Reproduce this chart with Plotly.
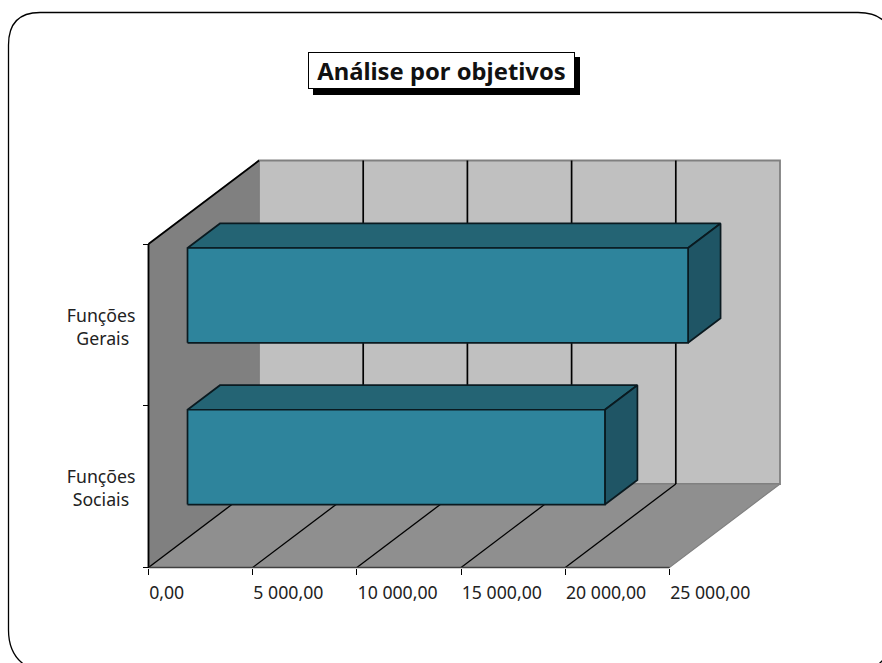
import plotly.graph_objects as go

categories = ["Funções<br>Sociais\u00a0\u200a", "Funções<br>Gerais\u00a0\u200a"]
values = [20030, 24020]
x_ticks = [0, 5000, 10000, 15000, 20000, 25000]
x_tick_labels = ["0,00", "5 000,00", "10 000,00", "15 000,00", "20 000,00", "25 000,00"]
title_text = "Análise por objetivos"

W, H = 882, 663
PX0, PX1 = 148.5, 669.5      # front plane, value 0 and 25000
PY0, PY1 = 567.5, 244.0      # front plane, category bottom and top
XMAX = x_ticks[-1]
NC = len(categories)
UX = XMAX / (PX1 - PX0)      # value units per pixel
UY = NC / (PY0 - PY1)        # category units per pixel
DX = 110.5 * UX              # full depth in value units
DY = 83.5 * UY               # full depth in category units
D0, D1 = 0.353, 0.647        # bar depth span
BAR = 0.586                  # bar thickness in category units


def P(v, c, d=0.0):
    return v + d * DX, c + d * DY


def poly(points, fill, line="rgba(0,0,0,0)", width=1.0, close=True):
    pts = [P(*p) for p in points]
    if close:
        pts.append(pts[0])
    return go.Scatter(
        x=[p[0] for p in pts], y=[p[1] for p in pts], mode="lines",
        fill="toself" if fill else None, fillcolor=fill,
        line=dict(color=line, width=width), hoverinfo="skip", showlegend=False,
    )


def seg(a, b, color, width):
    return poly([a, b], None, color, width, close=False)


fig = go.Figure()
EDGE = "#808080"
# walls
fig.add_trace(poly([(0, 0), (0, NC), (0, NC, 1), (0, 0, 1)], "#808080", "#707070", 1.2))
fig.add_trace(poly([(0, 0, 1), (0, NC, 1), (XMAX, NC, 1), (XMAX, 0, 1)], "#C0C0C0", EDGE, 1.8))
fig.add_trace(poly([(0, 0), (0, 0, 1), (XMAX, 0, 1), (XMAX, 0)], "#8F8F8F", EDGE, 1.2))
# gridlines
for t in x_ticks[:-1]:
    fig.add_trace(seg((t, 0), (t, 0, 1), "#000000", 1.3))
    if t > 0:
        fig.add_trace(seg((t, 0, 1), (t, NC, 1), "#000000", 1.7))
# frame edges of the walls
fig.add_trace(seg((0, 0), (0, NC), "#000000", 1.8))
fig.add_trace(seg((0, NC), (0, NC, 1), "#000000", 1.8))
fig.add_trace(seg((0, 0), (XMAX, 0), "#404040", 1.4))
# bars
for i, v in enumerate(values):
    lo, hi = i + 0.5 - BAR / 2, i + 0.5 + BAR / 2
    fig.add_trace(poly([(0, hi, D0), (0, hi, D1), (v, hi, D1), (v, hi, D0)], "#246474", "#0A1A20", 1.7))
    fig.add_trace(poly([(v, lo, D0), (v, hi, D0), (v, hi, D1), (v, lo, D1)], "#1F5565", "#0A1A20", 1.7))
    fig.add_trace(poly([(0, lo, D0), (0, hi, D0), (v, hi, D0), (v, lo, D0)], "#2E849C", "#0A1A20", 1.7))

FONT = "Noto Sans"
fig.update_layout(
    width=W, height=H, margin=dict(l=0, r=0, t=0, b=0), autosize=False,
    paper_bgcolor="white", plot_bgcolor="white", showlegend=False,
    font=dict(family=FONT, size=17.7, color="#222222"),
    xaxis=dict(
        range=[-PX0 * UX, (W - PX0) * UX], domain=[0, 1], anchor="free", position=1 - PY0 / H,
        showgrid=False, zeroline=False, showline=False, tickmode="array",
        tickvals=x_ticks, ticktext=x_tick_labels, ticks="outside", ticklen=6, tickwidth=1.3,
        tickcolor="#000000", ticklabelposition="outside right", ticklabelstandoff=9, automargin=False,
    ),
    yaxis=dict(
        range=[(PY0 - H) * UY, PY0 * UY], domain=[0, 1], anchor="free", position=PX0 / W,
        showgrid=False, zeroline=False, showline=False, tickmode="array",
        tickvals=[i + 0.5 for i in range(NC)], ticktext=categories, ticks="",
        ticklabelstandoff=13, ticklabelshift=2, automargin=False,
        minor=dict(tickmode="array", tickvals=list(range(NC + 1)), ticks="outside", ticklen=6,
                   tickwidth=1.3, tickcolor="#000000"),
    ),
    shapes=[
        dict(type="path", xref="paper", yref="paper", layer="below",
             path="M %f %f L %f %f Q %f %f %f %f L %f %f Q %f %f %f %f L %f %f Q %f %f %f %f L %f %f Q %f %f %f %f Z" % (
                 8.5 / W, 1 - 45 / H, 8.5 / W, 1 - 630 / H, 8.5 / W, 1 - 663 / H, 40 / W, 1 - 672 / H,
                 860 / W, 1 - 672 / H, 886 / W, 1 - 668 / H, 892 / W, 1 - 640 / H,
                 892 / W, 1 - 45 / H, 892 / W, 1 - 12.5 / H, 858 / W, 1 - 12.5 / H,
                 40 / W, 1 - 12.5 / H, 8.5 / W, 1 - 12.5 / H, 8.5 / W, 1 - 45 / H),
             line=dict(color="#000000", width=1.3), fillcolor="white"),
        dict(type="rect", xref="paper", yref="paper", layer="below",
             x0=313 / W, x1=580 / W, y0=1 - 95 / H, y1=1 - 57 / H,
             fillcolor="#000000", line=dict(width=0)),
    ],
    annotations=[
        dict(text="<b>%s</b>" % title_text, xref="paper", yref="paper",
             x=441.5 / W, y=1 - 70.5 / H, xanchor="center", yanchor="middle",
             width=265, height=35, showarrow=False, bgcolor="white",
             bordercolor="#000000", borderwidth=1, borderpad=0,
             font=dict(family=FONT, size=23.8, color="#111111")),
    ],
)
fig.write_html("out.html", config={"displayModeBar": False},
               post_script="document.body.style.margin='0';document.documentElement.style.overflow='hidden';")
